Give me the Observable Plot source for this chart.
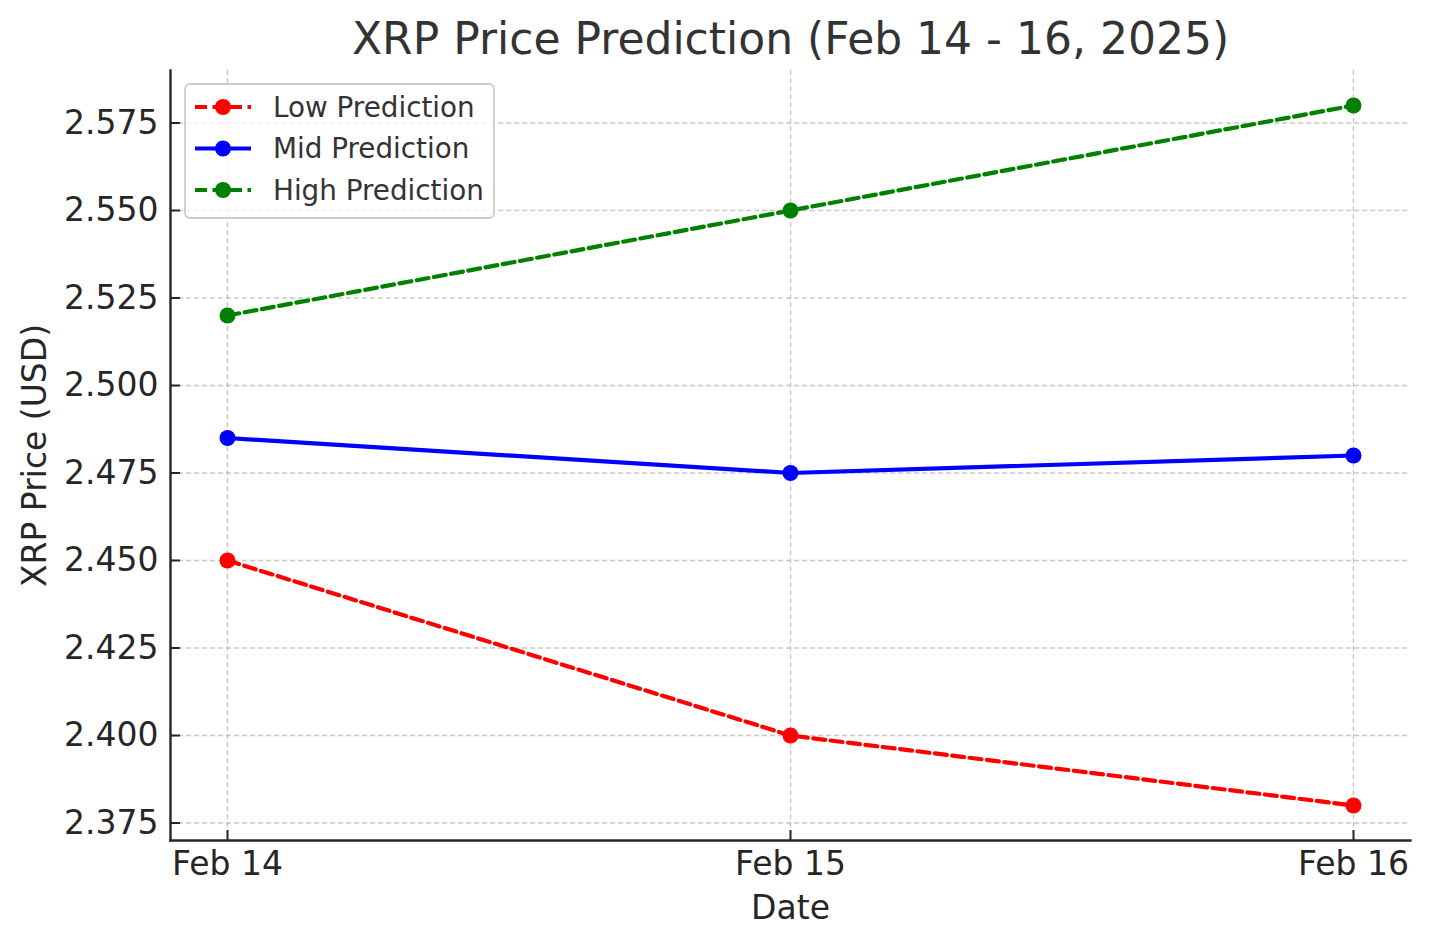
<!DOCTYPE html>
<html>
<head>
<meta charset="utf-8">
<script src="https://cdn.jsdelivr.net/npm/d3@7"></script>
<script src="https://cdn.jsdelivr.net/npm/@observablehq/plot@0.6"></script>
<style>
  html, body { margin: 0; padding: 0; background: #fff; }
  #wrap { position: relative; width: 1429px; height: 947px; font-family: "DejaVu Sans", sans-serif; }
  #legend { position: absolute; left: 0; top: 0; pointer-events: none; }
</style>
</head>
<body>
<div id="wrap"></div>
<script>
const dates = ["Feb 14", "Feb 15", "Feb 16"];
const lowPrediction = [2.45, 2.40, 2.38];
const midPrediction = [2.485, 2.475, 2.48];
const highPrediction = [2.52, 2.55, 2.58];
const seriesNames = ["Low Prediction", "Mid Prediction", "High Prediction"];
const seriesColors = ["#ff0000", "#0000ff", "#008000"];
const seriesDashed = [true, false, true];
const yTicks = [2.375, 2.400, 2.425, 2.450, 2.475, 2.500, 2.525, 2.550, 2.575];
const titleText = "XRP Price Prediction (Feb 14 - 16, 2025)";
const xLabel = "Date";
const yLabel = "XRP Price (USD)";

const seriesValues = [lowPrediction, midPrediction, highPrediction];
const rows = [];
seriesNames.forEach((name, i) => {
  dates.forEach((d, j) => rows.push({series: name, date: d, value: seriesValues[i][j]}));
});

const W = 1429, H = 947;
const mL = 170, mR = 19, mT = 70, mB = 107;
const ink = "#262626";
const dash = "12,5.5";
const lw = 4.2, dotR = 8;

const lineMarks = seriesNames.map((name, i) =>
  Plot.line(rows.filter(r => r.series === name), {
    x: "date", y: "value", stroke: seriesColors[i], strokeWidth: lw,
    strokeDasharray: seriesDashed[i] ? dash : null
  })
);
const dotMarks = seriesNames.map((name, i) =>
  Plot.dot(rows.filter(r => r.series === name), {
    x: "date", y: "value", fill: seriesColors[i], r: dotR, stroke: "none"
  })
);

const chart = Plot.plot({
  width: W, height: H,
  marginLeft: mL, marginRight: mR, marginTop: mT, marginBottom: mB,
  style: { fontFamily: "DejaVu Sans, sans-serif", fontSize: "33px", color: ink, background: "#fff" },
  x: { type: "point", domain: dates, padding: 0.1, align: 0.5 },
  y: { domain: [2.37, 2.59] },
  marks: [
    Plot.gridX(dates, { stroke: "#b0b0b0", strokeOpacity: 0.7, strokeWidth: 1.4, strokeDasharray: "5,3" }),
    Plot.gridY(yTicks, { stroke: "#b0b0b0", strokeOpacity: 0.7, strokeWidth: 1.4, strokeDasharray: "5,3" }),
    ...lineMarks,
    ...dotMarks,
    Plot.axisX(dates, { tickSize: -10, tickPadding: 21, stroke: ink, strokeWidth: 2, fontSize: 33, fill: ink, label: null }),
    Plot.axisY(yTicks, { tickSize: -10, tickPadding: 22, stroke: ink, strokeWidth: 2, fontSize: 33, fill: ink, tickFormat: d3.format(".3f"), label: null }),
    Plot.frame({ anchor: "left", stroke: ink, strokeWidth: 2.4 }),
    Plot.frame({ anchor: "bottom", stroke: ink, strokeWidth: 2.4 }),
    Plot.text([titleText], { frameAnchor: "top", dy: -31, fontSize: 44, fill: "#333333", lineAnchor: "middle" }),
    Plot.text([xLabel], { frameAnchor: "bottom", dy: 68, fontSize: 33, fill: ink, lineAnchor: "middle" }),
    Plot.text([yLabel], { frameAnchor: "left", dx: -135, rotate: -90, fontSize: 33, fill: ink, lineAnchor: "middle", textAnchor: "middle" })
  ]
});
document.getElementById("wrap").appendChild(chart);

// Legend overlay (matplotlib-style, upper left inside axes)
const lg = d3.select("#wrap").append("svg").attr("id", "legend").attr("width", W).attr("height", H);
const bx = 185, by = 84, bw = 309, bh = 134, rowH = 41.5;
lg.append("rect").attr("x", bx).attr("y", by).attr("width", bw).attr("height", bh)
  .attr("rx", 5).attr("fill", "rgba(255,255,255,0.8)").attr("stroke", "#cccccc").attr("stroke-width", 1.8);
seriesNames.forEach((name, i) => {
  const cy = by + 23 + i * rowH;
  lg.append("line").attr("x1", bx + 10).attr("x2", bx + 66).attr("y1", cy).attr("y2", cy)
    .attr("stroke", seriesColors[i]).attr("stroke-width", lw)
    .attr("stroke-dasharray", seriesDashed[i] ? dash : null);
  lg.append("circle").attr("cx", bx + 38).attr("cy", cy).attr("r", dotR).attr("fill", seriesColors[i]);
  lg.append("text").attr("x", bx + 88).attr("y", cy).attr("dy", "0.35em")
    .attr("font-family", "DejaVu Sans, sans-serif").attr("font-size", 27.8).attr("fill", "#333333").text(name);
});
</script>
</body>
</html>
